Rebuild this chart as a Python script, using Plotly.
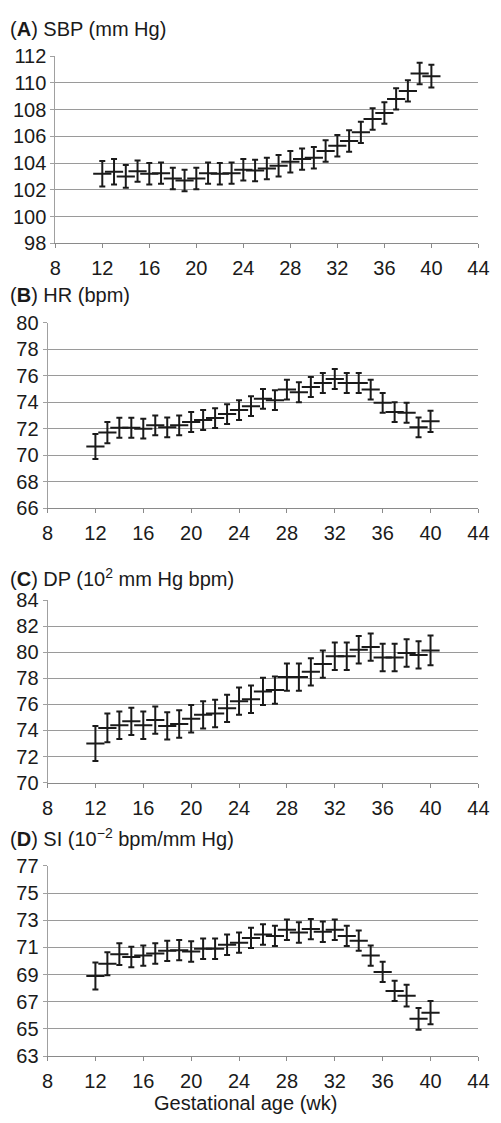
import plotly.graph_objects as go

weeks = list(range(12, 41))

sbp = [103.2, 103.35, 103.0, 103.4, 103.2, 103.25, 102.85, 102.7, 102.85, 103.25,
       103.2, 103.25, 103.5, 103.45, 103.6, 103.8, 104.1, 104.3, 104.4, 104.9,
       105.3, 105.65, 106.3, 107.3, 107.75, 108.8, 109.4, 110.7, 110.5]
sbp_err = [0.95, 0.95, 0.85, 0.8, 0.8, 0.8, 0.8, 0.8, 0.8, 0.8,
           0.8, 0.8, 0.8, 0.8, 0.8, 0.8, 0.8, 0.8, 0.8, 0.8,
           0.8, 0.8, 0.8, 0.8, 0.8, 0.8, 0.8, 0.8, 0.85]

hr = [70.65, 71.7, 72.07, 72.07, 72.0, 72.25, 72.1, 72.25, 72.5, 72.65,
      72.8, 73.1, 73.4, 73.7, 74.25, 74.15, 74.95, 74.75, 75.15, 75.45,
      75.75, 75.45, 75.45, 74.95, 73.95, 73.25, 73.2, 72.1, 72.55]
hr_err = [0.95, 0.8, 0.75, 0.75, 0.75, 0.75, 0.75, 0.75, 0.75, 0.75,
          0.75, 0.75, 0.75, 0.75, 0.75, 0.75, 0.75, 0.75, 0.75, 0.75,
          0.75, 0.75, 0.75, 0.75, 0.75, 0.75, 0.75, 0.75, 0.8]

dp = [73.0, 74.2, 74.4, 74.7, 74.4, 74.8, 74.35, 74.5, 74.9, 75.2,
      75.3, 75.7, 76.25, 76.4, 77.0, 77.1, 78.1, 78.1, 78.5, 79.1,
      79.7, 79.7, 80.2, 80.4, 79.6, 79.6, 79.95, 79.8, 80.15]
dp_err = [1.35, 1.1, 1.05, 1.05, 1.05, 1.05, 1.05, 1.05, 1.05, 1.05,
          1.05, 1.05, 1.05, 1.05, 1.05, 1.05, 1.05, 1.05, 1.05, 1.05,
          1.05, 1.05, 1.05, 1.05, 1.05, 1.05, 1.05, 1.05, 1.15]

si = [68.9, 69.8, 70.5, 70.3, 70.4, 70.55, 70.75, 70.8, 70.7, 70.9,
      70.9, 71.2, 71.35, 71.7, 71.95, 71.85, 72.3, 72.1, 72.35, 72.15,
      72.3, 71.85, 71.5, 70.4, 69.2, 67.8, 67.45, 65.75, 66.2]
si_err = [1.0, 0.85, 0.8, 0.75, 0.75, 0.75, 0.75, 0.75, 0.75, 0.75,
          0.75, 0.75, 0.75, 0.75, 0.75, 0.75, 0.75, 0.75, 0.75, 0.75,
          0.75, 0.75, 0.75, 0.75, 0.75, 0.75, 0.8, 0.8, 0.85]

titles = ["(<b>A</b>) SBP (mm Hg)",
          "(<b>B</b>) HR (bpm)",
          "(<b>C</b>) DP (10<sup>2</sup> mm Hg bpm)",
          "(<b>D</b>) SI (10<sup>\u22122</sup> bpm/mm Hg)"]
y_ranges = [(98, 112), (66, 80), (70, 84), (63, 77)]
x_tick_vals = [8, 12, 16, 20, 24, 28, 32, 36, 40, 44]
x_label = "Gestational age (wk)"

W, H = 501, 1123
FONT = "Liberation Sans, Arial, Helvetica, sans-serif"
INK = "#1a1a1a"

# pixel geometry of each panel: (left, right, top, bottom)
panels_px = [(51, 489, 46, 237), (43, 489, 318, 507), (43, 489, 601, 787), (43, 489, 872, 1066)]
title_y_px = [18, 290, 578, 843]

fig = go.Figure()
series = [(sbp, sbp_err), (hr, hr_err), (dp, dp_err), (si, si_err)]

for i, ((vals, errs), (l, r, t, b)) in enumerate(zip(series, panels_px)):
    n = "" if i == 0 else str(i + 1)
    fig.add_trace(go.Scatter(
        x=weeks, y=vals, mode="markers",
        xaxis="x" + n, yaxis="y" + n,
        marker=dict(symbol="line-ew", size=13, line=dict(width=2, color=INK), color=INK),
        error_y=dict(type="data", array=errs, visible=True, color=INK, thickness=2, width=3),
        showlegend=False, hoverinfo="x+y",
    ))
    y0, y1 = y_ranges[i]
    fig.layout["xaxis" + n] = dict(
        domain=[l / W, r / W], anchor="y" + n, range=[8, 44],
        tickvals=x_tick_vals, showgrid=False, zeroline=False,
        showline=True, linecolor="#8a8a8a", linewidth=1,
        ticks="outside", ticklen=4, tickcolor="#8a8a8a",
        ticklabelstandoff=3,
        tickfont=dict(family=FONT, size=20, color=INK),
    )
    fig.layout["yaxis" + n] = dict(
        domain=[1 - b / H, 1 - t / H], anchor="x" + n, range=[y0, y1],
        tick0=y0, dtick=2, showgrid=True, gridcolor="#9a9a9a", gridwidth=1,
        zeroline=False, showline=True, linecolor="#a0a0a0", linewidth=1,
        ticks="outside", ticklen=4, tickcolor="#a0a0a0",
        tickfont=dict(family=FONT, size=20, color=INK),
    )
    fig.add_annotation(
        text=titles[i], xref="paper", yref="paper", x=2 / W, y=1 - title_y_px[i] / H,
        xanchor="left", yanchor="middle", showarrow=False,
        font=dict(family=FONT, size=20, color=INK),
    )

fig.add_annotation(
    text=x_label, xref="paper", yref="paper", x=248 / W, y=1 - 1114 / H,
    xanchor="center", yanchor="middle", showarrow=False,
    font=dict(family=FONT, size=20, color=INK),
)

fig.update_layout(
    width=W, height=H, margin=dict(l=0, r=0, t=0, b=0),
    paper_bgcolor="white", plot_bgcolor="white",
)

fig.write_html("out.html")
